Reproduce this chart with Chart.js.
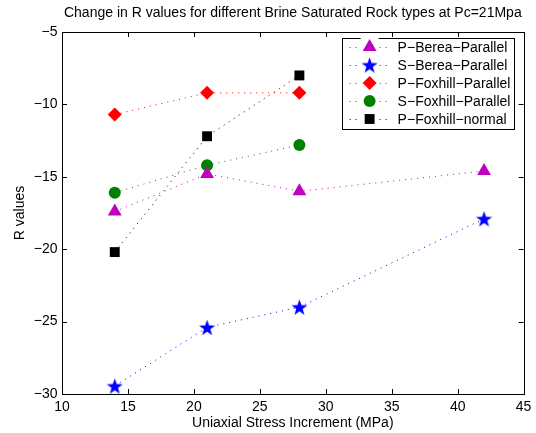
<!DOCTYPE html>
<html>
<head>
<meta charset="utf-8">
<script src="https://cdn.jsdelivr.net/npm/chart.js@4/dist/chart.umd.min.js"></script>
<style>
  html, body { margin: 0; padding: 0; background: #fff; }
  #wrap { width: 536px; height: 433px; }
</style>
</head>
<body>
<div id="wrap"><canvas id="chart" width="536" height="433"></canvas></div>
<script>
// DATA
// =============================================================================
const stressIncrement = [14, 21, 28, 42];
const pBereaParallel = [-17.4, -14.8, -16.0, -14.6];
const sBereaParallel = [-29.45, -25.4, -24.0, -17.9];
const pFoxhillParallel = [-10.7, -9.2, -9.2];
const sFoxhillParallel = [-16.1, -14.2, -12.8];
const pFoxhillNormal = [-20.2, -12.2, -8.0];

const seriesLabels = [
  'P\u2212Berea\u2212Parallel',
  'S\u2212Berea\u2212Parallel',
  'P\u2212Foxhill\u2212Parallel',
  'S\u2212Foxhill\u2212Parallel',
  'P\u2212Foxhill\u2212normal'
];

const FONT = '"Liberation Sans", Arial, Helvetica, sans-serif';

// Filled five-point star, Chart.js has no such point style
const makeStar = (color, size) => {
  const c = document.createElement('canvas');
  c.width = size;
  c.height = size;
  const g = c.getContext('2d');
  const cx = size / 2, cy = size / 2 + 0.8;
  const outer = size / 2, inner = outer * 0.4;
  g.beginPath();
  for (let i = 0; i < 10; i++) {
    const r = i % 2 === 0 ? outer : inner;
    const a = -Math.PI / 2 + i * Math.PI / 5;
    g.lineTo(cx + r * Math.cos(a), cy + r * Math.sin(a));
  }
  g.closePath();
  g.fillStyle = color;
  g.fill();
  return c;
};

const toPoints = (values) => values.map((y, i) => ({ x: stressIncrement[i], y: y }));

const makeSeries = (label, values, color, style, radius) => ({
  label: label,
  data: toPoints(values),
  showLine: true,
  borderColor: color,
  backgroundColor: color,
  borderWidth: 1,
  borderDash: [1, 5],
  pointStyle: style,
  pointRadius: radius,
  pointHoverRadius: radius,
  pointBorderWidth: 0,
  pointBackgroundColor: color,
  pointBorderColor: color,
  clip: false
});

const datasets = [
  makeSeries(seriesLabels[0], pBereaParallel, '#bf00bf', 'triangle', 8),
  makeSeries(seriesLabels[1], sBereaParallel, '#0000ff', makeStar('#0000ff', 17), 8),
  makeSeries(seriesLabels[2], pFoxhillParallel, '#ff0000', 'rectRot', 7),
  makeSeries(seriesLabels[3], sFoxhillParallel, '#008000', 'circle', 6),
  makeSeries(seriesLabels[4], pFoxhillNormal, '#000000', 'rect', 7)
];

// PLUGINS
// =============================================================================

// Axes box with inward ticks on all four sides
const frameTicks = {
  id: 'frameTicks',
  afterDatasetsDraw(chart) {
    const { ctx, chartArea: a, scales } = chart;
    const len = 5;
    ctx.save();
    ctx.strokeStyle = '#000';
    ctx.lineWidth = 1;
    ctx.beginPath();
    scales.x.ticks.forEach(t => {
      const px = Math.round(scales.x.getPixelForValue(t.value)) + 0.5;
      ctx.moveTo(px, a.bottom); ctx.lineTo(px, a.bottom - len);
      ctx.moveTo(px, a.top); ctx.lineTo(px, a.top + len);
    });
    scales.y.ticks.forEach(t => {
      const py = Math.round(scales.y.getPixelForValue(t.value)) + 0.5;
      ctx.moveTo(a.left, py); ctx.lineTo(a.left + len, py);
      ctx.moveTo(a.right, py); ctx.lineTo(a.right - len, py);
    });
    ctx.stroke();
    ctx.strokeRect(Math.round(a.left) + 0.5, Math.round(a.top) + 0.5,
      Math.round(a.right - a.left), Math.round(a.bottom - a.top));
    ctx.restore();
  }
};

// MATLAB style legend: dotted line sample with marker in the middle
const boxLegend = {
  id: 'boxLegend',
  afterDraw(chart) {
    const { ctx, chartArea: a } = chart;
    const sets = chart.data.datasets;
    const right = a.right - 10;
    const left = right - 172;
    const top = a.top + 6;
    const rowH = 18;
    const height = rowH * sets.length + 1;
    ctx.save();
    ctx.fillStyle = '#fff';
    ctx.fillRect(left, top, right - left, height);
    ctx.strokeStyle = '#000';
    ctx.lineWidth = 1;
    ctx.strokeRect(Math.round(left) + 0.5, Math.round(top) + 0.5, right - left, height);
    sets.forEach((ds, i) => {
      const y = top + 9 + i * rowH;
      ctx.save();
      ctx.strokeStyle = ds.borderColor;
      ctx.lineWidth = 1;
      ctx.setLineDash(ds.borderDash);
      ctx.beginPath();
      ctx.moveTo(left + 8, y + 0.5);
      ctx.lineTo(left + 48, y + 0.5);
      ctx.stroke();
      ctx.restore();
      ctx.fillStyle = '#fff';
      ctx.fillRect(left + 19, y - 9, 18, 18);
      ctx.fillStyle = ds.pointBackgroundColor;
      ctx.strokeStyle = ds.pointBorderColor;
      Chart.helpers.drawPoint(ctx, {
        pointStyle: ds.pointStyle,
        radius: ds.pointRadius,
        rotation: 0,
        borderWidth: 0
      }, left + 28, y);
      ctx.fillStyle = '#000';
      ctx.font = '14px ' + FONT;
      ctx.textBaseline = 'middle';
      ctx.textAlign = 'left';
      ctx.fillText(ds.label, left + 56, y + 1);
    });
    ctx.restore();
  }
};

// CHART
// =============================================================================
const minusLabel = (v) => String(v).replace('-', '\u2212');

new Chart(document.getElementById('chart').getContext('2d'), {
  type: 'scatter',
  data: { datasets: datasets },
  options: {
    responsive: false,
    animation: false,
    events: [],
    layout: { padding: { left: 0, right: 12, top: 0, bottom: 0 } },
    plugins: {
      legend: { display: false },
      tooltip: { enabled: false },
      title: {
        display: true,
        fullSize: false,
        text: 'Change in R values for different Brine Saturated Rock types at Pc=21Mpa',
        color: '#000',
        font: { family: FONT, size: 14, weight: 'normal' },
        padding: { top: 4.6, bottom: 10.6 }
      }
    },
    scales: {
      x: {
        type: 'linear',
        min: 10,
        max: 45,
        ticks: {
          stepSize: 5,
          color: '#000',
          padding: 4.6,
          maxRotation: 0,
          font: { family: FONT, size: 14 },
          callback: minusLabel
        },
        grid: { display: false, drawTicks: false },
        border: { display: false },
        title: {
          display: true,
          text: 'Uniaxial Stress Increment (MPa)',
          color: '#000',
          font: { family: FONT, size: 14 },
          padding: { top: 0, bottom: 1 }
        },
        afterFit: (scale) => { scale.height = 39; }
      },
      y: {
        type: 'linear',
        min: -30,
        max: -5,
        ticks: {
          stepSize: 5,
          color: '#000',
          padding: 4.5,
          font: { family: FONT, size: 14 },
          callback: minusLabel
        },
        grid: { display: false, drawTicks: false },
        border: { display: false },
        title: {
          display: true,
          text: 'R values',
          color: '#000',
          font: { family: FONT, size: 14 },
          padding: { top: 11.6, bottom: 0 }
        },
        afterFit: (scale) => { scale.width = 62; }
      }
    }
  },
  plugins: [frameTicks, boxLegend]
});
</script>
</body>
</html>
